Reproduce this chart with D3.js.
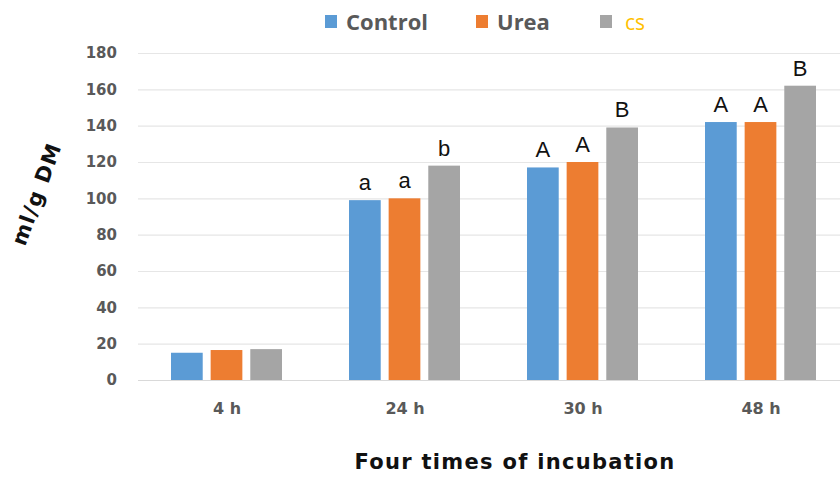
<!DOCTYPE html>
<html>
<head>
<meta charset="utf-8">
<script src="https://cdn.jsdelivr.net/npm/d3@7"></script>
<style>
  body { margin: 0; background: #fff; }
</style>
</head>
<body>
<div id="viz"></div>
<script>
const width = 840;
const height = 477;
const margin = {top: 53, right: -10, bottom: 97, left: 138};

// chart data
const times = ['4 h', '24 h', '30 h', '48 h'];
const seriesKeys = ['Control', 'Urea', 'cs'];
const seriesColors = ['#5B9BD5', '#ED7D31', '#A5A5A5'];
const controlValues = [15, 99, 117, 142];
const ureaValues = [16.5, 100, 120, 142];
const csValues = [17, 118, 139, 162];
const controlLetters = ['', 'a', 'A', 'A'];
const ureaLetters = ['', 'a', 'A', 'A'];
const csLetters = ['', 'b', 'B', 'B'];
const yTicks = [0, 20, 40, 60, 80, 100, 120, 140, 160, 180];

const valuesByKey = { Control: controlValues, Urea: ureaValues, cs: csValues };
const lettersByKey = { Control: controlLetters, Urea: ureaLetters, cs: csLetters };

const rows = [];
times.forEach((t, i) => {
  seriesKeys.forEach(k => {
    rows.push({ time: t, key: k, value: valuesByKey[k][i], letter: lettersByKey[k][i] });
  });
});

const svg = d3.select('#viz')
  .append('svg')
    .attr('width', width)
    .attr('height', height)
    .style('font-family', '"DejaVu Sans", sans-serif');

const scaleX = d3.scaleBand()
  .domain(times)
  .range([margin.left, width - margin.right])
  .paddingInner(0)
  .paddingOuter(0);

const scaleSub = d3.scaleBand()
  .domain(seriesKeys)
  .range([33, 33 + 111])
  .paddingInner(0.2)
  .paddingOuter(0);

const scaleY = d3.scaleLinear()
  .domain([0, 180])
  .range([height - margin.bottom, margin.top]);

const scaleColor = d3.scaleOrdinal()
  .domain(seriesKeys)
  .range(seriesColors);

// gridlines
svg.append('g')
  .attr('class', 'grid')
  .selectAll('line')
  .data(yTicks)
  .join('line')
    .attr('x1', margin.left)
    .attr('x2', width)
    .attr('y1', d => scaleY(d) + 0.5)
    .attr('y2', d => scaleY(d) + 0.5)
    .attr('stroke', d => d === 0 ? '#d9d9d9' : '#e6e6e6')
    .attr('stroke-width', 1.2);

// y axis labels
const axisLeft = d3.axisLeft(scaleY)
  .tickValues(yTicks)
  .tickSize(0)
  .tickPadding(21);
svg.append('g')
  .attr('transform', `translate(${margin.left},0)`)
  .call(axisLeft)
  .call(g => g.select('.domain').remove())
  .call(g => g.selectAll('text')
    .attr('fill', '#595959')
    .style('font-size', '15px')
    .style('font-weight', 700)
    .style('font-family', '"DejaVu Sans", sans-serif'));

// x axis labels
const axisBottom = d3.axisBottom(scaleX)
  .tickSize(0)
  .tickPadding(23);
svg.append('g')
  .attr('transform', `translate(0,${height - margin.bottom})`)
  .call(axisBottom)
  .call(g => g.select('.domain').remove())
  .call(g => g.selectAll('text')
    .attr('fill', '#595959')
    .style('font-size', '16px')
    .style('font-weight', 700)
    .style('font-family', '"DejaVu Sans", sans-serif'));

// bars
svg.append('g')
  .attr('class', 'bars')
  .selectAll('rect')
  .data(rows)
  .join('rect')
    .attr('x', d => scaleX(d.time) + scaleSub(d.key))
    .attr('y', d => scaleY(d.value))
    .attr('width', scaleSub.bandwidth())
    .attr('height', d => scaleY(0) - scaleY(d.value))
    .attr('fill', d => scaleColor(d.key));

// significance letters
svg.append('g')
  .attr('class', 'letters')
  .selectAll('text')
  .data(rows.filter(d => d.letter))
  .join('text')
    .attr('x', d => scaleX(d.time) + scaleSub(d.key) + scaleSub.bandwidth() / 2)
    .attr('y', d => scaleY(d.value) - 10)
    .attr('text-anchor', 'middle')
    .attr('fill', '#111')
    .style('font-family', '"Liberation Sans", Arial, sans-serif')
    .style('font-size', '22px')
    .text(d => d.letter);

// axis titles
svg.append('text')
  .attr('x', 515)
  .attr('y', 469)
  .attr('text-anchor', 'middle')
  .attr('fill', '#111')
  .style('font-family', '"DejaVu Sans", Verdana, sans-serif')
  .style('font-size', '21px')
  .style('font-weight', 700)
  .style('letter-spacing', '1.3px')
  .text('Four times of incubation');

svg.append('text')
  .attr('transform', 'translate(37,194) rotate(-70)')
  .attr('text-anchor', 'middle')
  .attr('dominant-baseline', 'central')
  .attr('fill', '#111')
  .style('font-family', '"DejaVu Sans", Verdana, sans-serif')
  .style('font-size', '21px')
  .style('font-weight', 700)
  .style('letter-spacing', '1.5px')
  .text('ml/g DM');

// legend
const legendX = [325, 476, 600];
const legend = svg.append('g')
  .attr('class', 'legend')
  .selectAll('g')
  .data(seriesKeys)
  .join('g')
    .attr('transform', (d, i) => `translate(${legendX[i]},15)`);
legend.append('rect')
  .attr('width', 12)
  .attr('height', 13)
  .attr('fill', d => scaleColor(d));
legend.append('text')
  .attr('x', d => d === 'cs' ? 25 : 21)
  .attr('y', 15)
  .attr('fill', d => d === 'cs' ? '#FFC000' : '#595959')
  .style('font-family', '"Open Sans", sans-serif')
  .style('font-size', d => d === 'cs' ? '21px' : '22px')
  .style('font-weight', d => d === 'cs' ? 400 : 700)
  .text(d => d);
</script>
</body>
</html>
